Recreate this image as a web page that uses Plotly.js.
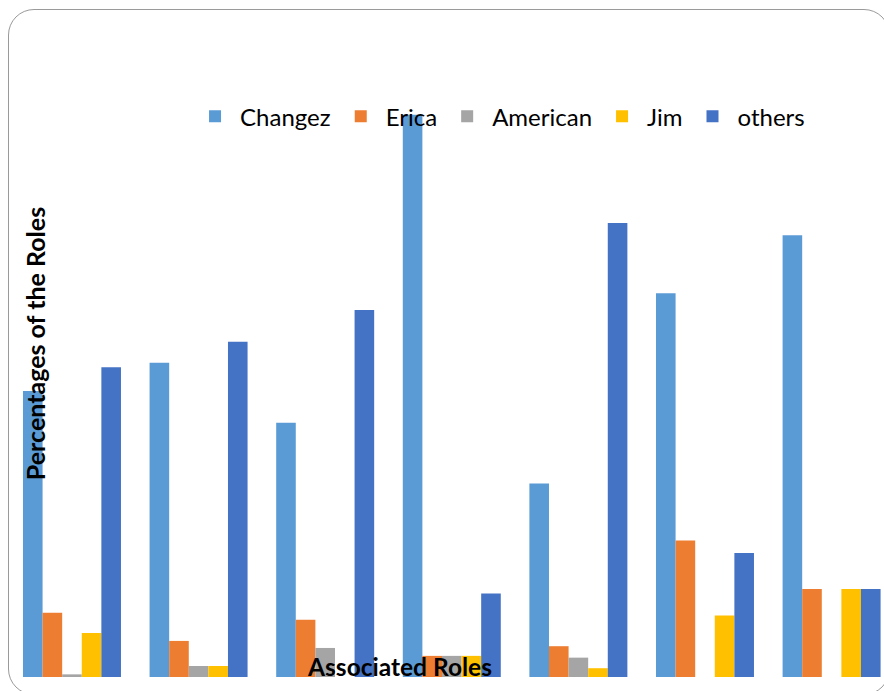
<!DOCTYPE html>
<html>
<head>
<meta charset="utf-8">
<script src="https://cdn.plot.ly/plotly-3.0.1.min.js"></script>
<style>
  html, body { margin: 0; padding: 0; width: 884px; height: 691px; overflow: hidden; background: #fff; }
  #wrap { position: relative; width: 884px; height: 691px; overflow: hidden; }
  #chart { position: absolute; left: -84px; top: 0; width: 968px; height: 691px; }
  #frame { position: absolute; left: 8px; top: 9px; width: 882px; height: 686px;
           border: 1.5px solid #9a9a9a; border-radius: 26px; pointer-events: none; box-sizing: border-box; }
</style>
</head>
<body>
<div id="wrap">
  <div id="chart"></div>
  <div id="frame"></div>
</div>
<script>
// Data (percent of roles, estimated)
const categories = ["Role 1", "Role 2", "Role 3", "Role 4", "Role 5", "Role 6", "Role 7"];
const seriesNames = ["Changez", "Erica", "American", "Jim", "others"];
const changez  = [32.5, 35.7, 28.9, 63.9, 22.0, 43.6, 50.2];
const erica    = [7.3, 4.1, 6.5, 2.4, 3.5, 15.5, 10.0];
const american = [0.3, 1.25, 3.3, 2.4, 2.2, 0, 0];
const jim      = [5.0, 1.25, 0, 2.4, 1.0, 7.0, 10.0];
const others   = [35.2, 38.1, 41.7, 9.5, 51.6, 14.1, 10.0];
const colors = ["#5B9BD5", "#ED7D31", "#A5A5A5", "#FFC000", "#4472C4"];

const values = [changez, erica, american, jim, others];
const xIdx = categories.map((c, i) => i);

const traces = values.map((v, k) => ({
  type: "bar",
  name: seriesNames[k],
  x: xIdx,
  y: v,
  marker: { color: colors[k], line: { width: 0 } },
  hoverinfo: "name+y"
}));

const font = "Lato, 'Open Sans', sans-serif";

const layout = {
  width: 968,
  height: 691,
  margin: { l: 0, r: 0, t: 10, b: 14, pad: 0 },
  paper_bgcolor: "rgba(0,0,0,0)",
  plot_bgcolor: "rgba(0,0,0,0)",
  barmode: "group",
  bargap: 0.226,
  bargroupgap: 0,
  font: { family: font, color: "#000" },
  showlegend: true,
  legend: {
    orientation: "h",
    x: 0.2831, xanchor: "left",
    y: 0.84, yanchor: "middle",
    itemwidth: 40,
    font: { family: font, size: 24, color: "#000" },
    bgcolor: "rgba(0,0,0,0)",
    traceorder: "normal"
  },
  xaxis: {
    type: "linear",
    range: [-1.232, 6.414],
    anchor: "free",
    position: 0.0285,
    showgrid: false, zeroline: false, showline: false,
    showticklabels: false, ticks: "",
    automargin: false,
    title: { text: "Associated Roles", standoff: 0,
             font: { family: font, size: 24.5, color: "#000", weight: "bold" } }
  },
  yaxis: {
    range: [0, 75.8],
    anchor: "free",
    position: 0.1425,
    showgrid: false, zeroline: false, showline: false,
    showticklabels: false, ticks: "",
    automargin: false,
    title: { text: "Percentages of the Roles", standoff: 0,
             font: { family: font, size: 25, color: "#000", weight: "bold" } }
  }
};

Plotly.newPlot("chart", traces, layout, { displayModeBar: false, staticPlot: true });
</script>
</body>
</html>
